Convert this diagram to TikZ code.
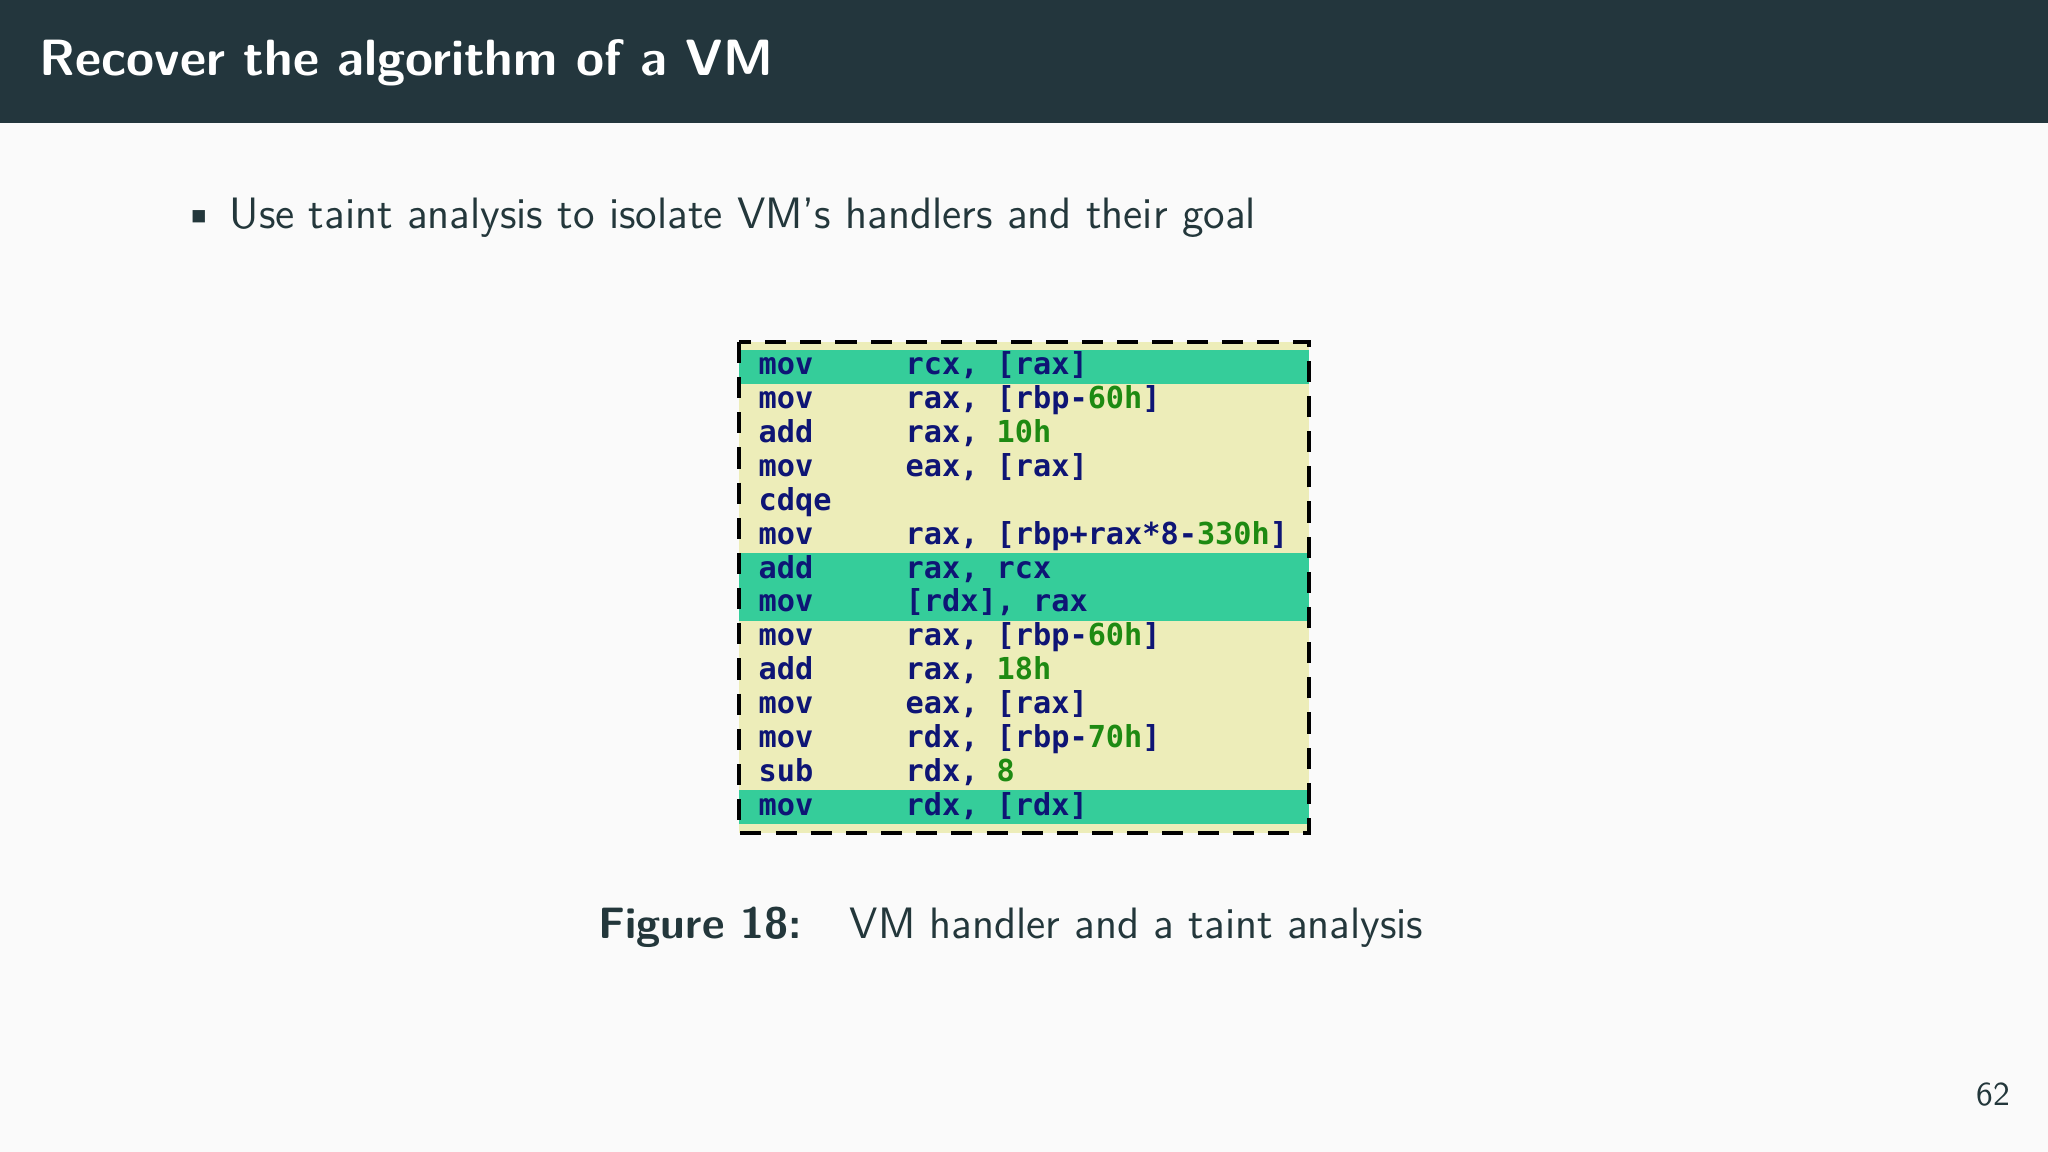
\documentclass[tikz,border=0pt]{standalone}
\usepackage{fontspec}
\newfontfamily\codefont{DejaVu Sans Mono}
\definecolor{bar}{HTML}{23363D}
\definecolor{fg}{HTML}{23373B}
\definecolor{bgc}{HTML}{FAFAFA}
\definecolor{khaki}{HTML}{EDEDB9}
\definecolor{taint}{HTML}{35CD9A}
\definecolor{navy}{HTML}{0E1575}
\definecolor{num}{HTML}{1E8A12}
\tikzset{
  code/.style={anchor=base west,inner sep=0pt,font=\codefont\bfseries\fontsize{8.6pt}{10pt}\selectfont,text=navy},
  txt/.style={anchor=base west,inner sep=0pt,text=fg,font=\sffamily\fontsize{12.5pt}{15pt}\selectfont}
}
\newcommand{\nm}[1]{\textcolor{num}{#1}}
\begin{document}
\begin{tikzpicture}[x=0.01cm,y=-0.01cm]
\fill[bgc] (0,0) rectangle (2048,1152);
\fill[bar] (0,0) rectangle (2048,123);
\node[anchor=base west,inner sep=0pt,text=white,font=\sffamily\bfseries\fontsize{14.5pt}{17pt}\selectfont] (title) at (39,76) {Recover the algorithm of a VM};
\node[txt] (bul) at (182,229) {\textbullet};
\node[txt] (item) at (229,229) {Use taint analysis to isolate VM's handlers and their goal};
% code box
\fill[khaki] (739,342) rectangle (1309,833);
\foreach \r in {0,6,7,13}{
  \fill[taint] (739,{350+\r*33.85}) rectangle (1309,{350+(\r+1)*33.85});
}
\draw[dashed,line width=1.3pt,dash pattern=on 6pt off 4pt] (739,342) rectangle (1309,833) node[coordinate] (boxc) {};
\foreach \i/\m/\o in {0/mov/{rcx, [rax]},1/mov/{rax, [rbp-\nm{60h}]},2/add/{rax, \nm{10h}},3/mov/{eax, [rax]},4/cdqe/{},5/mov/{rax, [rbp+rax*8-\nm{330h}]},6/add/{rax, rcx},7/mov/{[rdx], rax},8/mov/{rax, [rbp-\nm{60h}]},9/add/{rax, \nm{18h}},10/mov/{eax, [rax]},11/mov/{rdx, [rbp-\nm{70h}]},12/sub/{rdx, \nm{8}},13/mov/{rdx, [rdx]}}{
  \node[code] (m\i) at (758,{350+\i*33.85+25}) {\m};
  \node[code] (o\i) at (905,{350+\i*33.85+25}) {\o};
}
\node[txt] (figlbl) at (598,938) {\bfseries Figure 18:};
\node[txt] (cap) at (849,938) {VM handler and a taint analysis};
\node[anchor=base east,inner sep=0pt,text=fg,font=\sffamily\fontsize{9.5pt}{11pt}\selectfont] (pg) at (2011,1105) {62};
\end{tikzpicture}
\end{document}
